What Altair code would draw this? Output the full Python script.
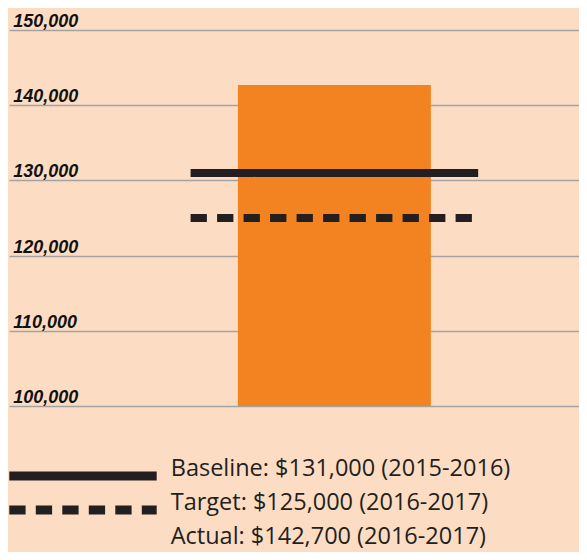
import altair as alt
import pandas as pd

# ---- data ----
category = ["2016-2017"]
actual_value = [142700]
axis_min = [100000]
line_labels = ["Baseline: $131,000 (2015-2016)", "Target: $125,000 (2016-2017)"]
line_values = [131000, 125000]
legend_labels = [
    "Baseline: $131,000 (2015-2016)",
    "Target: $125,000 (2016-2017)",
    "Actual: $142,700 (2016-2017)",
]
tick_values = [100000, 110000, 120000, 130000, 140000, 150000]

bar_df = pd.DataFrame({"cat": category, "value": actual_value, "base": axis_min})
line_df = pd.DataFrame({"cat": category * len(line_values), "label": line_labels, "value": line_values})

BG = "#FCDDC3"
ORANGE = "#F38220"
DARK = "#231F20"

xscale = alt.Scale(domain=category, paddingInner=0, paddingOuter=0.491, align=0.643)
yscale = alt.Scale(domain=[tick_values[0], tick_values[-1]], zero=False, nice=False)

yaxis = alt.Axis(
    values=tick_values, format=",.0f", title=None, ticks=False, domain=False,
    grid=True, gridColor="#A3A3A3", gridWidth=1.5,
    labelAlign="left", labelBaseline="alphabetic", labelPadding=-3.7, labelOffset=-3.5,
    labelFont="Liberation Sans", labelFontSize=18,
    labelFontStyle="italic", labelFontWeight="bold", labelColor="#111111",
)

bar = alt.Chart(bar_df).mark_bar(color=ORANGE, width=alt.RelativeBandSize(0.671)).encode(
    x=alt.X("cat:N", scale=xscale, axis=None),
    y=alt.Y("value:Q", scale=yscale, axis=yaxis),
    y2="base:Q",
)

rules = alt.Chart(line_df).mark_rule(strokeWidth=8, color=DARK, strokeCap="butt").encode(
    x=alt.X("cat:N", scale=xscale, axis=None, bandPosition=0),
    x2=alt.X2("cat:N", bandPosition=1),
    y=alt.Y("value:Q", scale=yscale, axis=yaxis),
    strokeDash=alt.StrokeDash(
        "label:N",
        scale=alt.Scale(domain=legend_labels, range=[[1, 0], [16.3, 10.2], [0, 1000]]),
        legend=alt.Legend(
            title=None, orient="none", legendX=-4.5, legendY=431,
            symbolType="stroke", symbolSize=21727, symbolStrokeWidth=9,
            symbolStrokeColor=DARK, clipHeight=30, rowPadding=0, padding=0,
            labelFont="Open Sans", labelFontSize=23.5, labelColor=DARK,
            labelLimit=500, labelOffset=9.2, labelBaseline="alphabetic",
        ),
    ),
)

chart = (
    alt.layer(bar, rules)
    .properties(
        width=570, height=376, background=BG,
        padding={"left": 1, "top": 22, "right": 0, "bottom": 146},
        autosize=alt.AutoSizeParams(type="none"),
    )
    .configure_view(strokeWidth=0)
)

chart.save("out.html", embed_options={"renderer": "svg", "actions": False})
